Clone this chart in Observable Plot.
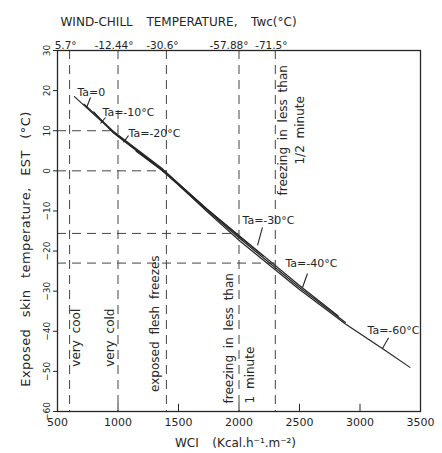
<!DOCTYPE html>
<html>
<head>
<meta charset="utf-8">
<script src="https://cdn.jsdelivr.net/npm/d3@7"></script>
<script src="https://cdn.jsdelivr.net/npm/@observablehq/plot@0.6"></script>
<style>
  html, body { margin: 0; padding: 0; background: #fff; }
  #chart svg { display: block; }
</style>
</head>
<body>
<div id="chart"></div>
<script>
// ---- data ----
const wciTicks = [500, 1000, 1500, 2000, 2500, 3000, 3500];
const estTicks = [30, 20, 10, 0, -10, -20, -30, -40, -50, -60];

// category boundaries (WCI) and their wind-chill temperatures
const zoneWCI = [600, 1000, 1400, 2000, 2300];
const zoneTwc = ["5.7°", "-12.44°", "-30.6°", "-57.88°", "-71.5°"];

// horizontal reference dashes: EST reached at the boundary WCI
const refWCI = [1000, 1400, 2000, 2300];
const refEST = [10, 0, -15.6, -23];

// curves: [WCI, EST] for each air temperature Ta
const seriesNames = ["Ta=0", "Ta=-10°C", "Ta=-20°C", "Ta=-30°C", "Ta=-40°C", "Ta=-60°C"];
const ta0   = [[640, 18.5], [963, 9.6], [1300, 1.8]];
const ta10  = [[720, 16.6], [963, 9.8], [1368, 0.5], [1700, -8.6]];
const ta20  = [[800, 14.7], [963, 9.4], [1368, 0.0], [1740, -9.7], [2012, -16.6], [2200, -21.2]];
const ta30  = [[1000, 8.7], [1368, 0.3], [1740, -9.6], [2012, -16.4], [2492, -28.4], [2820, -36.2]];
const ta40  = [[1150, 4.9], [1368, 0.0], [1740, -10.0], [2012, -17.0], [2492, -28.9], [2880, -37.8]];
const ta60  = [[1500, -3.5], [1740, -10.3], [2012, -17.6], [2492, -29.4], [2880, -38.2], [3194, -44.5], [3413, -49.0]];
const seriesPoints = [ta0, ta10, ta20, ta30, ta40, ta60];

// curve labels: text anchor (WCI, EST) and leader from -> to
const labelWCI = [665, 872, 1087, 2029, 2384, 3062];
const labelEST = [19.5, 14.5, 9.3, -12.4, -23.1, -39.8];
const leaderFrom = [[773, 18.3], [897, 13.3], [1087, 8.8], [2194, -14.1], [2566, -25.6], [3236, -41.6]];
const leaderTo   = [[740, 15.8], [855, 11.8], [1045, 7.1], [2153, -18.6], [2525, -29.1], [3186, -44.3]];

// category texts (vertical)
const zoneText   = ["very cool", "very cold", "exposed flesh freezes", "freezing in less than", "1 minute", "freezing in less than", "1/2 minute"];
const zoneTextW  = [657, 938, 1310, 1921, 2095, 2368, 2508];
const zoneTextE  = [-41.6, -41.6, -38.1, -58.0, -58.0, 10.1, 10.1];
const zoneAnchor = ["middle", "middle", "middle", "start", "start", "middle", "middle"];

const titleText = "WIND-CHILL  TEMPERATURE,  Twc(°C)";
const xLabel = "WCI  (Kcal.h⁻¹.m⁻²)";
const yLabel = "Exposed skin temperature, EST (°C)";

// ---- build tables ----
const curves = seriesNames.flatMap((name, i) => seriesPoints[i].map(([w, e]) => ({name, w, e})));
const refs = refWCI.map((w, i) => ({w, e: refEST[i]}));
const curveLabels = seriesNames.map((name, i) => ({name, w: labelWCI[i], e: labelEST[i]}));
const leaders = seriesNames.map((name, i) => ({x1: leaderFrom[i][0], y1: leaderFrom[i][1], x2: leaderTo[i][0], y2: leaderTo[i][1]}));
const zoneLabels = zoneText.map((t, i) => ({t, w: zoneTextW[i], e: zoneTextE[i], a: zoneAnchor[i]}));
const tops = zoneWCI.map((w, i) => ({w, t: zoneTwc[i]}));

const ink = "#262626";
const font = "DejaVu Sans, Verdana, sans-serif";

const plot = Plot.plot({
  width: 442,
  height: 453,
  marginLeft: 57,
  marginRight: 22,
  marginTop: 50,
  marginBottom: 42,
  style: {fontFamily: font, color: ink, background: "#fff"},
  x: {domain: [500, 3500], ticks: wciTicks, tickFormat: d => String(d)},
  y: {domain: [-60, 30], ticks: estTicks},
  marks: [
    // dashed category boundaries
    Plot.ruleX(zoneWCI, {stroke: "#444", strokeWidth: 1, strokeDasharray: "9,6"}),
    Plot.ruleY(refs, {y: "e", x1: 500, x2: "w", stroke: "#444", strokeWidth: 1, strokeDasharray: "9,6"}),
    // inward x ticks
    Plot.ruleX(wciTicks.slice(1, -1), {y1: -60, y2: -58.2, stroke: ink, strokeWidth: 1}),
    Plot.axisX({ticks: wciTicks, tickFormat: d => String(d), tickSize: 0, tickPadding: 7, fontSize: 11, label: null}),
    Plot.axisY({ticks: estTicks, tickSize: 4, tickPadding: 4, tickRotate: -90, fontSize: 9, label: null}),
    // curves
    Plot.line(curves, {x: "w", y: "e", z: "name", stroke: ink, strokeWidth: 1.2}),
    Plot.link(leaders, {x1: "x1", y1: "y1", x2: "x2", y2: "y2", stroke: ink, strokeWidth: 1.1}),
    Plot.text(curveLabels, {x: "w", y: "e", text: "name", textAnchor: "start", fontSize: 11, fill: ink}),
    // vertical zone texts
    Plot.text(zoneLabels, {x: "w", y: "e", text: "t", rotate: -90, textAnchor: "start", filter: d => d.a === "start", fontSize: 12, fill: ink}),
    Plot.text(zoneLabels, {x: "w", y: "e", text: "t", rotate: -90, textAnchor: "middle", filter: d => d.a === "middle", fontSize: 12, fill: ink}),
    // top wind-chill temperatures
    Plot.text(tops, {x: "w", frameAnchor: "top", text: "t", dy: -9, dx: -4, filter: d => d.w !== 2000, fontSize: 10.5, fill: ink}),
    Plot.text(tops, {x: "w", frameAnchor: "top", text: "t", dy: -9, dx: -10, filter: d => d.w === 2000, fontSize: 10.5, fill: ink}),
    // title / axis labels
    Plot.text([titleText], {frameAnchor: "top-left", dx: 3, dy: -33, textAnchor: "start", fontSize: 12, fill: ink}),
    Plot.text([xLabel], {x: 1971, frameAnchor: "bottom", dy: 35, textAnchor: "middle", fontSize: 12, fill: ink}),
    Plot.text([yLabel], {y: -19.5, frameAnchor: "left", dx: -32, rotate: -90, textAnchor: "middle", fontSize: 13, fill: ink}),
    Plot.frame({stroke: ink, strokeWidth: 1.3})
  ]
});

document.getElementById("chart").appendChild(plot);
// wide lettering like the original drawing
d3.select(plot).selectAll("text").style("word-spacing", "3px");
d3.select(plot).selectAll("text").filter(function() { return this.textContent === yLabel; })
  .style("word-spacing", "7px").style("letter-spacing", "0.4px");
</script>
</body>
</html>
